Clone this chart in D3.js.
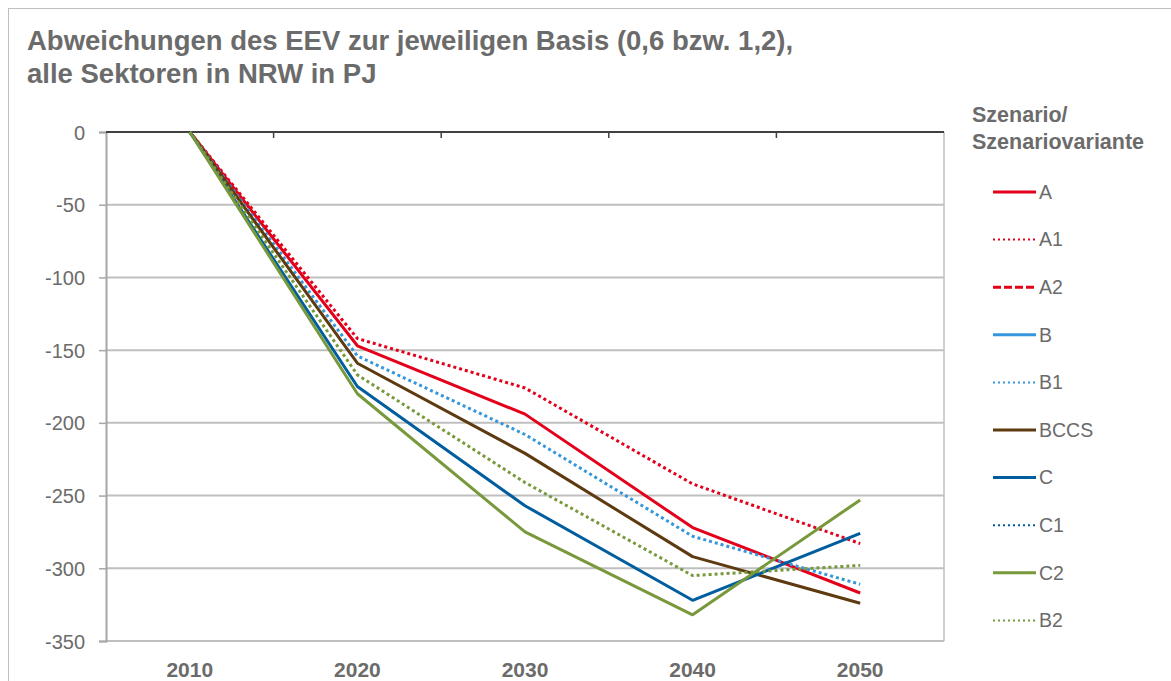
<!DOCTYPE html>
<html>
<head>
<meta charset="utf-8">
<script src="https://cdn.jsdelivr.net/npm/d3@7"></script>
<style>
  body { margin: 0; background: #fff; }
  svg { display: block; font-family: "Liberation Sans", Arial, sans-serif; }
</style>
</head>
<body>
<svg id="chart" width="1171" height="681"></svg>
<script>
// Daten
var years = ["2010", "2020", "2030", "2040", "2050"];
var yTicks = [0, -50, -100, -150, -200, -250, -300, -350];

var seriesNames = ["A", "A1", "A2", "B", "B1", "BCCS", "C", "C1", "C2", "B2"];
var valA    = [0, -147, -194, -272, -317];
var valA1   = [0, -142, -176, -242, -283];
var valA2   = [null, null, null, null, null];
var valB    = [null, null, null, null, null];
var valB1   = [0, -154, -208, -278, -311];
var valBCCS = [0, -159, -221, -292, -324];
var valC    = [0, -175, -257, -322, -276];
var valC1   = [null, null, null, null, null];
var valC2   = [0, -180, -275, -332, -253];
var valB2   = [0, -167, -241, -305, -298];

var seriesColors = ["#e3001b", "#e3001b", "#e3001b", "#3596db", "#3596db", "#5e3a10", "#005e9e", "#005e9e", "#77993b", "#77993b"];
var seriesDash   = ["", "3,3", "8,4", "", "3,3", "", "", "3,3", "", "3,3"];

var allValues = [valA, valA1, valA2, valB, valB1, valBCCS, valC, valC1, valC2, valB2];
var series = seriesNames.map(function(n, i) {
	return {name: n, values: allValues[i], color: seriesColors[i], dash: seriesDash[i]};
});

var svg = d3.select("#chart");
var textColor = "#6b6b6b";

// aeusserer Rahmen
svg.append("rect")
	.attr("x", 8.5).attr("y", 8.5)
	.attr("width", 1180).attr("height", 700)
	.attr("fill", "none").attr("stroke", "#bfbfbf").attr("stroke-width", 1);

// Titel
var title = svg.append("text")
	.attr("x", 27).attr("y", 50)
	.style("font-size", "27.5px").style("font-weight", "bold")
	.attr("fill", textColor);
title.append("tspan").attr("x", 27).text("Abweichungen des EEV zur jeweiligen Basis (0,6 bzw. 1,2),");
title.append("tspan").attr("x", 27).attr("dy", 33).text("alle Sektoren in NRW in PJ");

var plotLeft = 106, plotRight = 944, plotTop = 132, plotBottom = 641;

var x = d3.scaleBand().domain(years).range([plotLeft, plotRight]);
var y = d3.scaleLinear().domain([0, -350]).range([plotTop, plotBottom]);

// Gitterlinien
svg.append("g").selectAll("line")
	.data(yTicks.filter(function(d) { return d !== 0; }))
	.enter().append("line")
	.attr("x1", plotLeft).attr("x2", plotRight)
	.attr("y1", function(d) { return y(d); })
	.attr("y2", function(d) { return y(d); })
	.attr("stroke", "#bfbfbf").attr("stroke-width", 2);

// rechter Rand der Zeichenflaeche
svg.append("line")
	.attr("x1", plotRight).attr("x2", plotRight).attr("y1", plotTop).attr("y2", plotBottom)
	.attr("stroke", "#bfbfbf").attr("stroke-width", 1.5);

// Y-Achse
var yAxis = svg.append("g")
	.attr("transform", "translate(" + plotLeft + ",0)")
	.call(d3.axisLeft(y).tickValues(yTicks).tickSize(7).tickPadding(14)
		.tickFormat(function(d) { return String(d); }));
yAxis.select(".domain").attr("stroke", "#a6a6a6").attr("stroke-width", 2);
yAxis.selectAll(".tick line").attr("stroke", "#a6a6a6").attr("stroke-width", 1.5);
yAxis.selectAll("text").attr("fill", textColor)
	.style("font-size", "20px").style("font-family", "'Liberation Sans', Arial, sans-serif")
	.attr("dy", "0.35em");

// X-Achse oben bei 0 mit Teilstrichen an den Kategoriegrenzen
svg.append("line")
	.attr("x1", plotLeft).attr("x2", plotRight).attr("y1", y(0)).attr("y2", y(0))
	.attr("stroke", "#404040").attr("stroke-width", 2);
svg.append("g").selectAll("line")
	.data(years.slice(1))
	.enter().append("line")
	.attr("x1", function(d) { return x(d); })
	.attr("x2", function(d) { return x(d); })
	.attr("y1", y(0)).attr("y2", y(0) + 6)
	.attr("stroke", "#404040").attr("stroke-width", 1.5);

// Jahreszahlen unten
svg.append("g").selectAll("text")
	.data(years)
	.enter().append("text")
	.attr("x", function(d) { return x(d) + x.bandwidth() / 2; })
	.attr("y", 677)
	.attr("text-anchor", "middle")
	.style("font-size", "21px").style("font-weight", "bold")
	.attr("fill", textColor)
	.text(function(d) { return d; });

// Linien
var line = d3.line()
	.defined(function(d) { return d !== null; })
	.x(function(d, i) { return x(years[i]) + x.bandwidth() / 2; })
	.y(function(d) { return y(d); });

svg.append("g").selectAll("path")
	.data(series)
	.enter().append("path")
	.attr("d", function(d) { return line(d.values); })
	.attr("fill", "none")
	.attr("stroke", function(d) { return d.color; })
	.attr("stroke-width", 3)
	.attr("stroke-dasharray", function(d) { return d.dash; })
	.attr("stroke-linejoin", "round");

// Legende
var legTitle = svg.append("text")
	.attr("x", 972).attr("y", 122)
	.style("font-size", "21.5px").style("font-weight", "bold")
	.attr("fill", textColor);
legTitle.append("tspan").attr("x", 972).text("Szenario/");
legTitle.append("tspan").attr("x", 972).attr("dy", 27).text("Szenariovariante");

var leg = svg.append("g").selectAll("g")
	.data(series)
	.enter().append("g")
	.attr("transform", function(d, i) { return "translate(0," + (192 + i * 47.6) + ")"; });
leg.append("line")
	.attr("x1", 993).attr("x2", 1036).attr("y1", 0).attr("y2", 0)
	.attr("stroke", function(d) { return d.color; })
	.attr("stroke-width", function(d) { return d.dash === "3,3" ? 2 : 3; })
	.attr("stroke-dasharray", function(d) { return d.dash === "3,3" ? "2,3" : (d.dash === "8,4" ? "8,3" : ""); });
leg.append("text")
	.attr("x", 1039).attr("y", 0).attr("dy", "0.35em")
	.style("font-size", "19.5px")
	.attr("fill", textColor)
	.text(function(d) { return d.name; });
</script>
</body>
</html>
